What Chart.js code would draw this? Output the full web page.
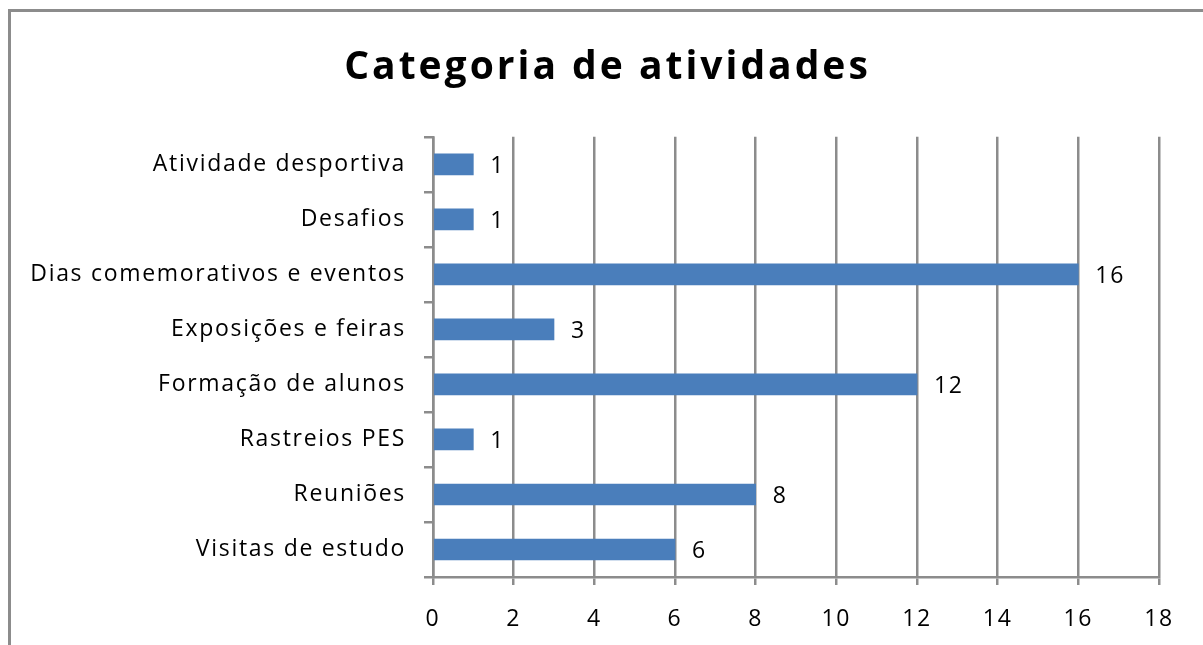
<!DOCTYPE html>
<html>
<head>
<meta charset="utf-8">
<script src="https://cdn.jsdelivr.net/npm/chart.js@4.4.1/dist/chart.umd.min.js"></script>
<style>
  html, body { margin: 0; padding: 0; background: #fff; }
  #wrap { position: relative; width: 1203px; height: 645px; overflow: hidden; }
  #frame { position: absolute; left: 8px; top: 9px; width: 1300px; height: 800px;
           border-left: 3px solid #8c8c8c; border-top: 3px solid #8c8c8c; }
  canvas { position: absolute; left: 0; top: 0; }
</style>
</head>
<body>
<div id="wrap">
  <div id="frame"></div>
  <canvas id="chart" width="1203" height="645"></canvas>
</div>
<script>
var categories = [
  "Atividade desportiva",
  "Desafios",
  "Dias comemorativos e eventos",
  "Exposições e feiras",
  "Formação de alunos",
  "Rastreios PES",
  "Reuniões",
  "Visitas de estudo"
];
var values = [1, 1, 16, 3, 12, 1, 8, 6];
var xTicks = [0, 2, 4, 6, 8, 10, 12, 14, 16, 18];

var fontFamily = "'Open Sans', Lato, sans-serif";

// the original text is set quite wide, so space the letters out a bit
var wideText = {
  id: 'wideText',
  afterLayout: function (chart) {
    var t = chart.titleBlock;
    if (!t) return;
    // title is centred a bit right of the canvas middle in the original
    t.left = 56;
    if (!t._wide) {
      var origDraw = t.draw;
      t.draw = function () {
        var ctx = chart.ctx;
        ctx.letterSpacing = '3px';
        origDraw.apply(this, arguments);
        ctx.letterSpacing = '1.7px';
      };
      t._wide = true;
    }
  },
  beforeDraw: function (chart) {
    chart.ctx.letterSpacing = '1.7px';
  }
};

// draws the value to the right of each bar
var valueLabels = {
  id: 'valueLabels',
  afterDatasetsDraw: function (chart) {
    var ctx = chart.ctx;
    var meta = chart.getDatasetMeta(0);
    ctx.save();
    ctx.fillStyle = '#000';
    ctx.font = '23px ' + fontFamily;
    ctx.textAlign = 'left';
    ctx.textBaseline = 'middle';
    meta.data.forEach(function (bar, i) {
      ctx.fillText(values[i], bar.x + 17, bar.y + 2);
    });
    ctx.restore();
  }
};

new Chart(document.getElementById('chart').getContext('2d'), {
  type: 'bar',
  data: {
    labels: categories,
    datasets: [{
      data: values,
      backgroundColor: '#4a7ebb',
      borderColor: '#4a7ebb',
      borderWidth: 0,
      barThickness: 21
    }]
  },
  options: {
    indexAxis: 'y',
    responsive: false,
    animation: false,
    layout: { padding: { left: 0, right: 44, top: 0, bottom: 0 } },
    plugins: {
      legend: { display: false },
      tooltip: { enabled: false },
      title: {
        display: true,
        text: 'Categoria de atividades',
        color: '#000',
        font: { family: fontFamily, size: 39, weight: 'bold', lineHeight: 1.2 },
        padding: { top: 44, bottom: 46 }
      }
    },
    scales: {
      x: {
        min: 0,
        max: 18,
        afterFit: function (s) { s.height = 68; },
        afterBuildTicks: function (s) {
          s.ticks = xTicks.map(function (v) { return { value: v }; });
        },
        grid: { color: '#8c8c8c', lineWidth: 2.5, tickLength: 8 },
        border: { color: '#8c8c8c', width: 2.5 },
        ticks: { color: '#000', padding: 21, font: { family: fontFamily, size: 23 } }
      },
      y: {
        afterFit: function (s) { s.width = 433; },
        grid: { drawOnChartArea: false, color: '#8c8c8c', lineWidth: 2.5, tickLength: 9, offset: true },
        border: { color: '#8c8c8c', width: 2.5 },
        ticks: { color: '#000', padding: 18, font: { family: fontFamily, size: 23 } }
      }
    }
  },
  plugins: [wideText, valueLabels]
});
</script>
</body>
</html>
